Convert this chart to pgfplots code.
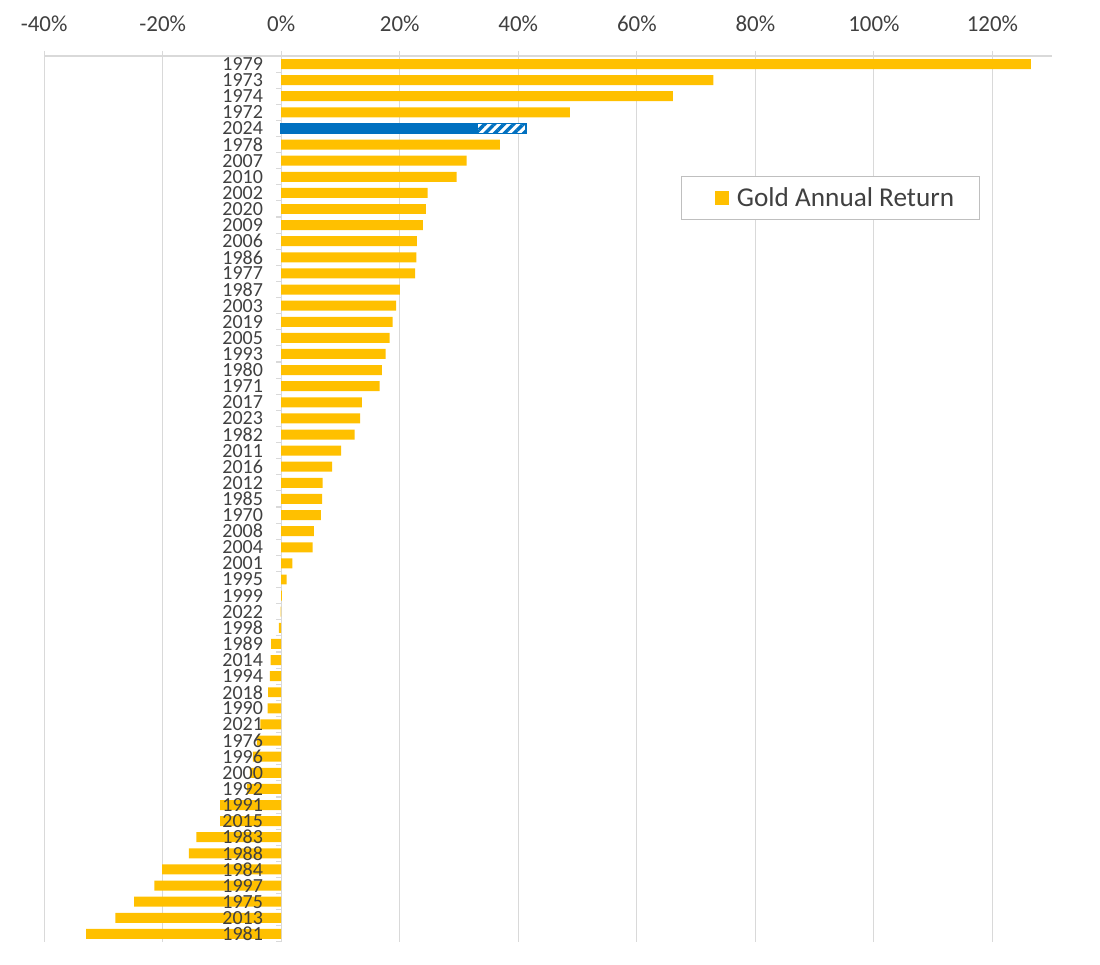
\documentclass[border=0pt]{standalone}
\usepackage{fontspec}
\setmainfont{Carlito}
\usepackage{pgfplots}
\pgfplotsset{compat=1.18}
\usetikzlibrary{patterns.meta,calc}
\definecolor{goldc}{HTML}{FFC000}
\definecolor{bluec}{HTML}{0070C0}
\definecolor{gridc}{HTML}{D9D9D9}
\definecolor{legc}{HTML}{BFBFBF}
\definecolor{txt}{HTML}{404040}
\pgfplotsset{
  layers/mylayers/.define layer set={
    axis background,axis grid,axis ticks,axis lines,pre main,main,axis tick labels,axis descriptions,axis foreground
  }{
    grid style={/pgfplots/on layer=axis grid},
    tick style={/pgfplots/on layer=axis ticks},
    axis line style={/pgfplots/on layer=axis lines},
    label style={/pgfplots/on layer=axis descriptions},
    legend style={/pgfplots/on layer=axis descriptions},
    title style={/pgfplots/on layer=axis descriptions},
    ticklabel style={/pgfplots/on layer=axis tick labels},
  },
}
\begin{document}
\begin{tikzpicture}
\begin{axis}[
  set layers=mylayers,
  scale only axis, width=725.4pt, height=637.9pt,
  xmin=-40, xmax=130, ymin=-0.5, ymax=54.5, y dir=reverse,
  axis x line=top, axis y line=middle,
  axis line style={-, draw=gridc, line width=0.8pt},
  hide obscured x ticks=false, hide obscured y ticks=false,
  xtick={-40,-20,...,120},
  xticklabels={-40\%,-20\%,0\%,20\%,40\%,60\%,80\%,100\%,120\%},
  xmajorgrids, grid style={draw=gridc, line width=0.8pt},
  tick align=outside, major tick length=3.6pt,
  xtick style={draw=gridc, line width=0.8pt},
  ytick={0,...,54},
  yticklabels={1979,1973,1974,1972,2024,1978,2007,2010,2002,2020,2009,2006,1986,1977,1987,2003,2019,2005,1993,1980,1971,2017,2023,1982,2011,2016,2012,1985,1970,2008,2004,2001,1995,1999,2022,1998,1989,2014,1994,2018,1990,2021,1976,1996,2000,1992,1991,2015,1983,1988,1984,1997,1975,2013,1981},
  ytick style={draw=none},
  extra y ticks={-0.5,0.5,...,54.5},
  extra y tick labels={},
  extra y tick style={ytick style={draw=gridc, line width=0.8pt}},
  xticklabel style={font=\fontsize{16.5pt}{18pt}\selectfont, text=txt, anchor=base, yshift=14pt},
  yticklabel style={font=\fontsize{14.4pt}{16pt}\selectfont, text=txt, anchor=east, xshift=-6pt},
  xbar, bar width=0.62, bar shift=0pt,
  legend cell align=left,
  legend style={at={(0.6318,0.8646)}, anchor=north west, draw=legc, fill=white, line width=0.8pt,
    font=\fontsize{19.6pt}{22pt}\selectfont, text=txt, inner xsep=13pt, inner ysep=5pt,
    nodes={inner ysep=3pt, inner xsep=5.5pt}},
]
\addplot[fill=goldc, draw=none,
  legend image code/.code={\fill[white] (-11pt,-5.3pt) rectangle (0pt,5.3pt); \fill[goldc] (0pt,-5.3pt) rectangle (10.6pt,5.3pt);}]
coordinates {
(126.5,0) (72.9,1) (66.1,2) (48.7,3) (36.9,5) (31.3,6) (29.6,7) (24.7,8) (24.4,9)
(23.9,10) (22.9,11) (22.8,12) (22.6,13) (20.0,14) (19.4,15) (18.8,16) (18.3,17)
(17.6,18) (17.0,19) (16.6,20) (13.6,21) (13.3,22) (12.4,23) (10.1,24) (8.6,25)
(7.0,26) (6.9,27) (6.7,28) (5.5,29) (5.3,30) (1.9,31) (0.9,32) (0.1,33) (-0.1,34)
(-0.4,35) (-1.7,36) (-1.8,37) (-1.9,38) (-2.2,39) (-2.3,40) (-3.5,41) (-4.1,42)
(-4.8,43) (-5.3,44) (-5.8,45) (-10.3,46) (-10.3,47) (-14.3,48) (-15.6,49) (-20.1,50)
(-21.4,51) (-24.8,52) (-28.0,53) (-32.9,54)
};
\addlegendentry{Gold Annual Return}
% 2024: white base with blue outline, blue stripes, then solid part
\addplot[forget plot, fill=white, draw=bluec, line width=1.2pt]
coordinates {(41.3,4)};
\addplot[forget plot, draw=none, pattern={Lines[angle=45,distance=4.9pt,line width=2.5pt]}, pattern color=bluec]
coordinates {(41.3,4)};
\addplot[forget plot, fill=none, draw=bluec, line width=1.2pt]
coordinates {(41.3,4)};
\addplot[forget plot, fill=bluec, draw=bluec, line width=0.6pt]
coordinates {(33.1,4)};
\end{axis}
\pgfresetboundingbox
\path ($(current axis.south west)+(-31.8pt,-16.6pt)$) rectangle ($(current axis.north east)+(34.8pt,40.3pt)$);
\end{tikzpicture}
\end{document}
